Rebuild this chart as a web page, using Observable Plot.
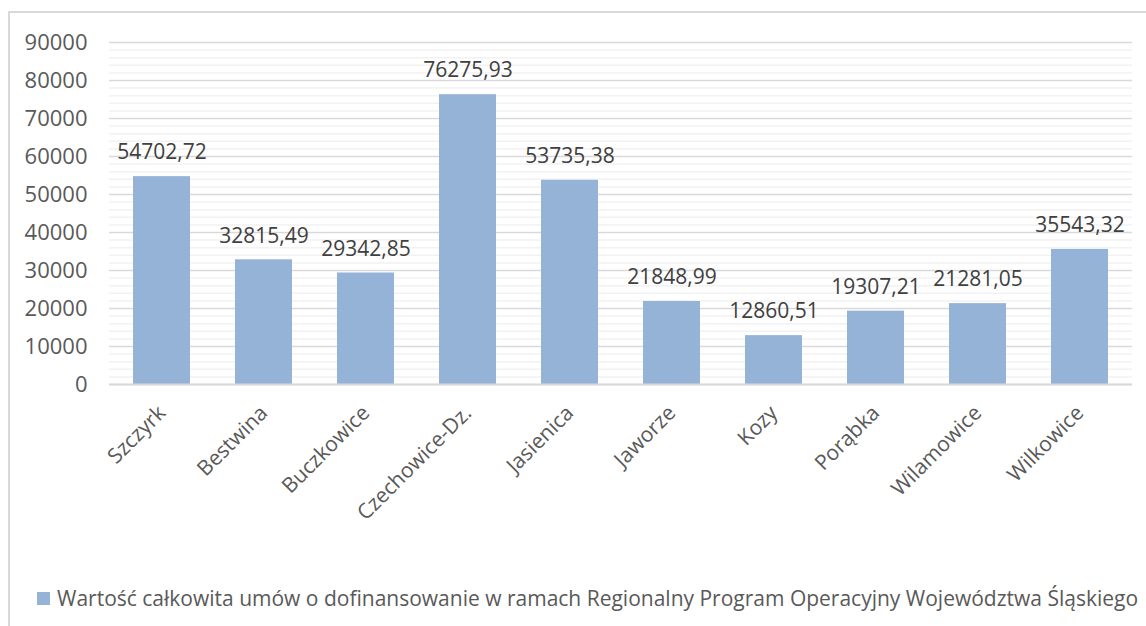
<!DOCTYPE html>
<html>
<head>
<meta charset="utf-8">
<script src="https://cdn.jsdelivr.net/npm/d3@7"></script>
<script src="https://cdn.jsdelivr.net/npm/@observablehq/plot@0.6"></script>
<style>
  html, body { margin: 0; padding: 0; background: #fff; }
  #wrap { position: relative; width: 1146px; height: 626px; overflow: hidden; font-family: "Open Sans", sans-serif; color: #595959; }
  #frame { position: absolute; left: 8px; top: 11px; width: 1150px; height: 640px; border: 2px solid #d9d9d9; box-sizing: border-box; }
  #chart { position: absolute; left: 0; top: 0; }
  #legend { position: absolute; left: 37px; top: 584px; font-size: 21px; white-space: nowrap; display: flex; align-items: center; }
  #legend .sw { width: 13px; height: 13px; background: #95b3d7; margin-right: 7px; }
</style>
</head>
<body>
<div id="wrap">
  <div id="frame"></div>
  <div id="chart"></div>
  <div id="legend"><span class="sw"></span><span>Wartość całkowita umów o dofinansowanie w ramach Regionalny Program Operacyjny Województwa Śląskiego</span></div>
</div>
<script>
const categories = ["Szczyrk", "Bestwina", "Buczkowice", "Czechowice-Dz.", "Jasienica", "Jaworze", "Kozy", "Porąbka", "Wilamowice", "Wilkowice"];
const values = [54702.72, 32815.49, 29342.85, 76275.93, 53735.38, 21848.99, 12860.51, 19307.21, 21281.05, 35543.32];
const labels = ["54702,72", "32815,49", "29342,85", "76275,93", "53735,38", "21848,99", "12860,51", "19307,21", "21281,05", "35543,32"];
const majorTicks = [0, 10000, 20000, 30000, 40000, 50000, 60000, 70000, 80000, 90000];
const minorTicks = d3.range(0, 90001, 2000).filter(v => v % 10000 !== 0);

const data = categories.map((c, i) => ({ name: c, value: values[i], label: labels[i] }));

const chart = Plot.plot({
  width: 1146,
  height: 560,
  marginLeft: 109,
  marginRight: 14,
  marginTop: 42,
  marginBottom: 176,
  style: { fontFamily: "Open Sans, sans-serif", fontSize: "21px", color: "#595959", background: "transparent" },
  x: { domain: categories, paddingInner: 0.444, paddingOuter: 0.222, label: null },
  y: { domain: [0, 90000], label: null },
  marks: [
    Plot.ruleY(minorTicks, { stroke: "#f2f2f2", strokeWidth: 1.5 }),
    Plot.ruleY(majorTicks, { stroke: "#d9d9d9", strokeWidth: 1.5 }),
    Plot.barY(data, { x: "name", y: "value", fill: "#95b3d7" }),
    Plot.ruleY([0], { stroke: "#d9d9d9", strokeWidth: 2 }),
    Plot.text(data, { x: "name", y: "value", text: "label", dy: -24, lineAnchor: "middle", fontSize: 21, fill: "#404040" }),
    Plot.axisY({ ticks: majorTicks, tickSize: 0, tickPadding: 22, tickFormat: d => String(d), fontSize: 22, fill: "#595959", label: null }),
    Plot.axisX({ tickSize: 0, tickRotate: -45, tickPadding: 25, dx: 0, fontSize: 21, fill: "#595959", label: null })
  ]
});
document.getElementById("chart").appendChild(chart);
</script>
</body>
</html>
